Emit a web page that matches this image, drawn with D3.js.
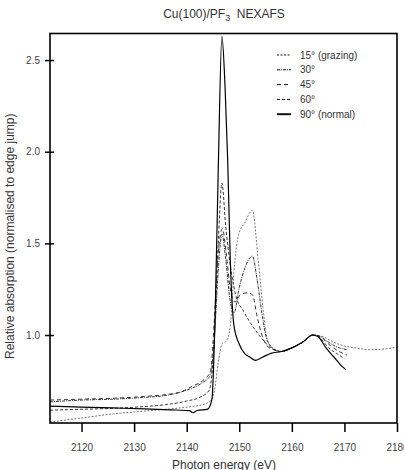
<!DOCTYPE html>
<html lang="en">
<head>
    <meta charset="utf-8">
    <title>Cu(100)/PF3 NEXAFS</title>
    <script src="https://d3js.org/d3.v7.min.js"></script>
    <style>
        body { margin: 0; background: #fff; }
        text { font-family: "Liberation Sans", Arial, sans-serif; }
        .line { fill: none; }
    </style>
</head>
<body>
    <div id="chart"></div>
    <script>
        const w = 404;
        const h = 470;
        const margin = { top: 33.5, right: 7, bottom: 47, left: 50 };

        // photon energy (eV), relative absorption
        const s15 = [[2114,0.525],[2118,0.54],[2122,0.555],[2126,0.57],[2130,0.58],[2134,0.59],[2138,0.6],[2141,0.61],[2143,0.62],[2144.5,0.64],[2145.3,0.7],[2146,0.85],[2146.7,0.95],[2147.6,0.97],[2148.3,1.05],[2149,1.35],[2149.9,1.55],[2151,1.61],[2152.5,1.68],[2153.6,1.41],[2154.5,1.15],[2155.3,0.98],[2156.3,0.93],[2158,0.91],[2160,0.93],[2162,0.96],[2164,1.0],[2166,0.99],[2168,0.96],[2170,0.94],[2172,0.93],[2175,0.92],[2178,0.925],[2180,0.935]];
        const s30 = [[2114,0.635],[2120,0.645],[2126,0.65],[2132,0.66],[2136,0.67],[2139,0.69],[2141,0.71],[2143,0.74],[2144.5,0.78],[2145.3,1.0],[2146,1.35],[2146.7,1.55],[2147.4,1.42],[2148.2,1.2],[2149,1.12],[2150,1.26],[2151,1.36],[2152.5,1.43],[2153.4,1.3],[2154.3,1.12],[2155.2,0.98],[2156.3,0.93],[2158,0.91],[2160,0.93],[2162,0.96],[2164,1.0],[2165.5,0.99],[2167,0.96],[2169,0.93],[2170.5,0.92]];
        const s45 = [[2114,0.645],[2120,0.65],[2126,0.655],[2132,0.665],[2136,0.675],[2139,0.69],[2141,0.72],[2143,0.75],[2144.5,0.8],[2145.3,1.1],[2146,1.45],[2146.8,1.58],[2147.5,1.45],[2148.3,1.25],[2149.2,1.18],[2150.2,1.22],[2151.5,1.23],[2152.5,1.22],[2153.4,1.1],[2154.3,1.0],[2155.3,0.94],[2156.5,0.92],[2158,0.91],[2160,0.93],[2162,0.96],[2164,1.0],[2165.5,0.99],[2167,0.95],[2169,0.91],[2170.5,0.89]];
        const s60 = [[2114,0.59],[2120,0.595],[2126,0.6],[2132,0.61],[2136,0.62],[2140,0.64],[2142.5,0.66],[2144.3,0.7],[2145.2,0.95],[2146,1.5],[2146.7,1.83],[2147.4,1.6],[2148.3,1.38],[2149.3,1.22],[2150.8,1.13],[2152.5,1.05],[2154.6,0.97],[2156,0.93],[2158,0.91],[2160,0.93],[2162,0.96],[2164,1.0],[2165.5,0.98],[2167,0.93],[2168.5,0.9],[2170,0.87]];
        const s90 = [[2114,0.612],[2120,0.607],[2126,0.602],[2132,0.597],[2137,0.592],[2140.5,0.587],[2141.2,0.576],[2142,0.588],[2144,0.596],[2144.8,0.65],[2145.4,1.1],[2146,1.9],[2146.7,2.63],[2147.3,2.35],[2147.8,1.95],[2148.3,1.4],[2149,1.05],[2150,0.95],[2151,0.9],[2152,0.88],[2153.1,0.862],[2154.5,0.88],[2156,0.9],[2158,0.91],[2160,0.93],[2162,0.96],[2164,1.0],[2165,0.99],[2166.5,0.93],[2168,0.88],[2169.5,0.83],[2170.3,0.81]];

        const seriesNames = ["15\u00b0 (grazing)", "30\u00b0", "45\u00b0", "60\u00b0", "90\u00b0 (normal)"];
        const xTicks = [2120, 2130, 2140, 2150, 2160, 2170, 2180];
        const yTicks = [1.0, 1.5, 2.0, 2.5];

        const series = [
            { name: seriesNames[0], values: s15, dash: "2,1.5", color: "#777", width: 1 },
            { name: seriesNames[1], values: s30, dash: "3,1,1,1", color: "#333", width: 1 },
            { name: seriesNames[2], values: s45, dash: "4,3", color: "#333", width: 1 },
            { name: seriesNames[3], values: s60, dash: "3,2", color: "#333", width: 1 },
            { name: seriesNames[4], values: s90, dash: null, color: "#000", width: 1.2 }
        ];

        const svg = d3.select("#chart").append("svg")
            .attr("width", w)
            .attr("height", h);

        const xScale = d3.scaleLinear()
            .domain([2114, 2180])
            .range([margin.left, w - margin.right]);

        const yScale = d3.scaleLinear()
            .domain([0.52, 2.645])
            .range([h - margin.bottom, margin.top]);

        svg.append("clipPath").attr("id", "clip")
            .append("rect")
            .attr("x", margin.left)
            .attr("y", margin.top)
            .attr("width", w - margin.left - margin.right)
            .attr("height", h - margin.top - margin.bottom);

        const line = d3.line()
            .x(d => xScale(d[0]))
            .y(d => yScale(d[1]))
            .curve(d3.curveMonotoneX);

        svg.append("g").attr("clip-path", "url(#clip)")
            .selectAll("path")
            .data(series)
            .enter()
            .append("path")
            .attr("class", "line")
            .attr("d", d => line(d.values))
            .attr("stroke", d => d.color)
            .attr("stroke-width", d => d.width)
            .attr("stroke-dasharray", d => d.dash);

        // frame
        svg.append("rect")
            .attr("x", margin.left)
            .attr("y", margin.top)
            .attr("width", w - margin.left - margin.right)
            .attr("height", h - margin.top - margin.bottom)
            .attr("fill", "none")
            .attr("stroke", "#000")
            .attr("stroke-width", 1.6);

        const xAxis = d3.axisBottom(xScale)
            .tickValues(xTicks)
            .tickSize(9)
            .tickPadding(12)
            .tickFormat(d3.format("d"));

        const gx = svg.append("g")
            .attr("transform", `translate(0, ${h - margin.bottom})`)
            .call(xAxis);
        gx.select(".domain").remove();
        gx.selectAll(".tick line").attr("stroke", "#000").attr("stroke-width", 1.5);
        gx.selectAll("text").attr("fill", "#444").style("font-size", "10px")
            .attr("font-family", "Liberation Sans, Arial, sans-serif");

        const yAxis = d3.axisLeft(yScale)
            .tickValues(yTicks)
            .tickSizeInner(4)
            .tickSizeOuter(0)
            .tickPadding(6)
            .tickFormat(d3.format(".1f"));

        const gy = svg.append("g")
            .attr("transform", `translate(${margin.left}, 0)`)
            .call(yAxis);
        gy.select(".domain").remove();
        gy.selectAll(".tick line").attr("x1", 4).attr("x2", -5)
            .attr("stroke", "#000").attr("stroke-width", 1.5);
        gy.selectAll("text").attr("fill", "#444").style("font-size", "10px")
            .attr("font-family", "Liberation Sans, Arial, sans-serif");

        // title
        const title = svg.append("text")
            .attr("x", 224)
            .attr("y", 18)
            .attr("text-anchor", "middle")
            .attr("fill", "#333")
            .style("font-size", "12px");
        title.append("tspan").text("Cu(100)/PF");
        title.append("tspan").attr("baseline-shift", "-30%").style("font-size", "9px").text("3");
        title.append("tspan").text("\u00a0 NEXAFS");

        svg.append("text")
            .attr("x", 224)
            .attr("y", 469)
            .attr("text-anchor", "middle")
            .attr("fill", "#333")
            .style("font-size", "12px")
            .text("Photon energy (eV)");

        svg.append("text")
            .attr("transform", `translate(14, ${(margin.top + h - margin.bottom) / 2 + 8}) rotate(-90)`)
            .attr("text-anchor", "middle")
            .attr("fill", "#333")
            .style("font-size", "12px")
            .text("Relative absorption (normalised to edge jump)");

        // legend
        const legend = svg.append("g").attr("transform", "translate(277, 55)");
        const rows = legend.selectAll("g")
            .data(series)
            .enter()
            .append("g")
            .attr("transform", (d, i) => `translate(0, ${i * 14.8})`);
        rows.append("line")
            .attr("x1", 0).attr("x2", 14)
            .attr("y1", 0).attr("y2", 0)
            .attr("stroke", "#111")
            .attr("stroke-width", (d, i) => i === 4 ? 2 : 1)
            .attr("stroke-dasharray", d => d.dash);
        rows.append("text")
            .attr("x", 23)
            .attr("y", 3.5)
            .attr("fill", "#333")
            .style("font-size", "10px")
            .text(d => d.name);
    </script>
</body>
</html>
